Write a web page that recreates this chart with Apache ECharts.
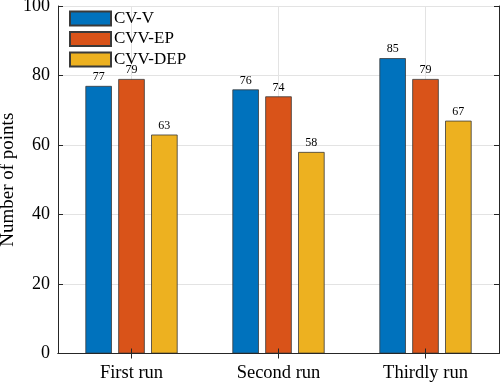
<!DOCTYPE html>
<html>
<head>
<meta charset="utf-8">
<script src="https://cdn.jsdelivr.net/npm/echarts@6/dist/echarts.min.js"></script>
<style>html,body{margin:0;padding:0;background:#fff;}#c{width:500px;height:382px;}</style>
</head>
<body>
<div id="c"></div>
<script>
const categories = ['First run', 'Second run', 'Thirdly run'];
const seriesNames = ['CV-V', 'CVV-EP', 'CVV-DEP'];
const cvV = [77, 76, 85];
const cvvEP = [79, 74, 79];
const cvvDEP = [63, 58, 67];
const yTicks = [0, 20, 40, 60, 80, 100];
const colors = ['#0072BD', '#D95319', '#EDB120'];

const font = 'Liberation Serif';
const axisColor = '#262626';
const gridColor = '#e3e3e3';
const chart = echarts.init(document.getElementById('c'));
const values = [cvV, cvvEP, cvvDEP];

const bars = seriesNames.map((n, i) => ({
  name: n, type: 'bar', data: values[i], z: 2,
  xAxisIndex: 0, yAxisIndex: 0,
  barWidth: 26.5, barGap: '24%',
  itemStyle: { color: colors[i], borderColor: '#3a3a3a', borderWidth: 0.8 },
  label: { show: true, position: 'top', distance: 3, fontFamily: font, fontSize: 12, color: '#000' }
}));

const gridSeries = {
  type: 'line', data: [], z: 1, xAxisIndex: 0, yAxisIndex: 0,
  markLine: {
    z: 1, silent: true, symbol: ['none', 'none'], label: { show: false },
    lineStyle: { color: gridColor, width: 1, type: 'solid' },
    emphasis: { disabled: true },
    data: categories.map(c => ({ xAxis: c }))
  }
};

chart.setOption({
  animation: false,
  textStyle: { fontFamily: font },
  grid: { left: 58, right: 1, top: 6, bottom: 28.5, outerBoundsMode: 'none', containLabel: false },
  legend: {
    orient: 'vertical', left: 64, top: 5,
    itemWidth: 41, itemHeight: 14, itemGap: 3.5, icon: 'rect',
    textStyle: { fontFamily: font, fontSize: 17, color: '#000', padding: [0, 0, 0, -2] },
    data: seriesNames
  },
  xAxis: [
    {
      type: 'category', data: categories, position: 'bottom', z: 3,
      axisLine: { lineStyle: { color: axisColor, width: 1 } },
      axisTick: { show: true, inside: true, alignWithLabel: true, length: 5, lineStyle: { color: axisColor } },
      axisLabel: { fontFamily: font, fontSize: 18.5, color: '#000', margin: 10 },
      splitLine: { show: false }
    },
    {
      type: 'category', data: categories, position: 'top',
      axisLine: { show: true, lineStyle: { color: axisColor, width: 1 } },
      axisTick: { show: true, inside: true, alignWithLabel: true, length: 5, lineStyle: { color: axisColor } },
      axisLabel: { show: false },
      splitLine: { show: false }
    }
  ],
  yAxis: [
    {
      type: 'value', min: 0, max: 100, interval: 20, position: 'left',
      name: 'Number of points', nameLocation: 'middle', nameGap: 40, nameMoveOverlap: false,
      nameTextStyle: { fontFamily: font, fontSize: 19, color: '#000' },
      axisLine: { show: true, lineStyle: { color: axisColor, width: 1 } },
      axisTick: { show: true, inside: true, length: 5, lineStyle: { color: axisColor } },
      axisLabel: { fontFamily: font, fontSize: 18, color: '#000', margin: 8,
        formatter: v => yTicks.includes(v) ? String(v) : '' },
      splitLine: { show: true, lineStyle: { color: gridColor, width: 1 } }
    },
    {
      type: 'value', min: 0, max: 100, interval: 20, position: 'right',
      axisLine: { show: true, lineStyle: { color: axisColor, width: 1 } },
      axisTick: { show: true, inside: true, length: 5, lineStyle: { color: axisColor } },
      axisLabel: { show: false },
      splitLine: { show: false }
    }
  ],
  series: [gridSeries].concat(bars)
});
</script>
</body>
</html>
